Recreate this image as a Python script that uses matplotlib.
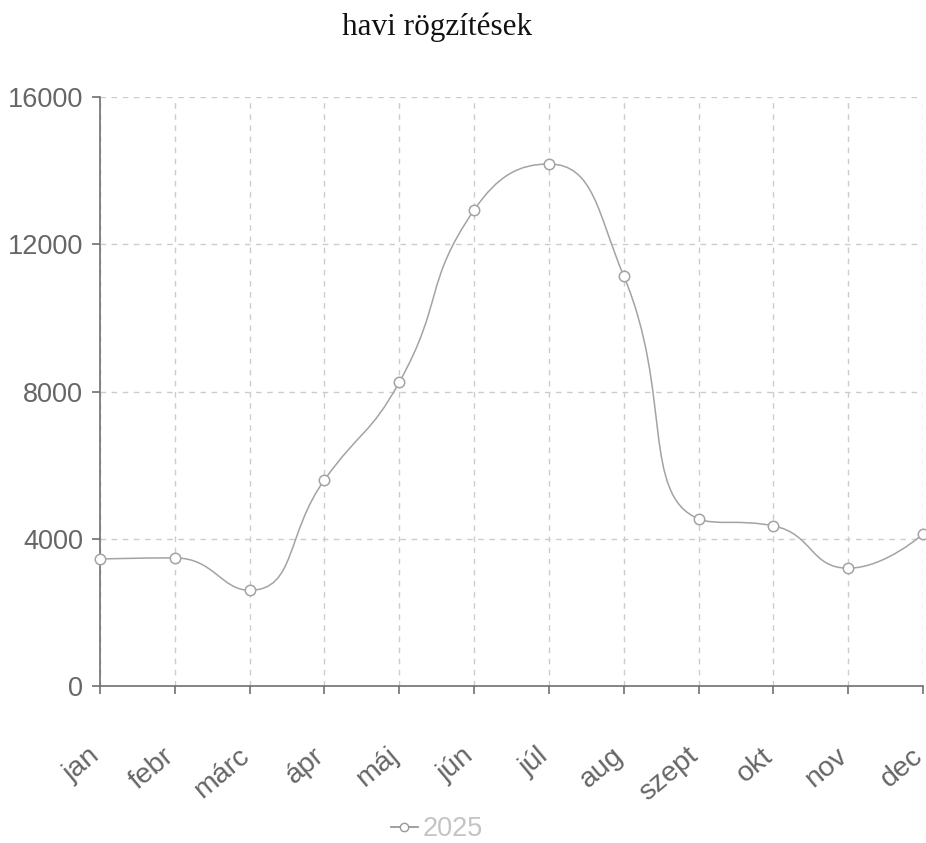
import matplotlib
matplotlib.use("Agg")
import matplotlib.pyplot as plt
import matplotlib.transforms as mtransforms
from matplotlib.path import Path
from matplotlib.patches import PathPatch
from matplotlib.lines import Line2D
import numpy as np

# adatok
honapok = ["jan", "febr", "márc", "ápr", "máj", "jún", "júl", "aug", "szept", "okt", "nov", "dec"]
ertekek_2025 = [3450, 3480, 2600, 5600, 8250, 12930, 14180, 11140, 4540, 4350, 3200, 4130]
y_ticks = [0, 4000, 8000, 12000, 16000]

axis_color = "#707070"
label_color = "#666666"
line_color = "#a3a3a3"


def smooth_path(px, py, smooth=0.5):
    # echarts-féle simítás (pixel koordinátákban)
    n = len(px)
    verts = [(px[0], py[0])]
    codes = [Path.MOVETO]
    cp0x, cp0y = px[0], py[0]
    for i in range(1, n):
        x, y = px[i], py[i]
        prevx, prevy = px[i - 1], py[i - 1]
        if i == n - 1:
            cp1x, cp1y = x, y
            ncx, ncy = x, y
        else:
            nextx, nexty = px[i + 1], py[i + 1]
            vx, vy = nextx - prevx, nexty - prevy
            len_prev = np.hypot(x - prevx, y - prevy)
            len_next = np.hypot(nextx - x, nexty - y)
            ratio = len_next / (len_next + len_prev)
            ncx = x + vx * smooth * ratio
            ncy = y + vy * smooth * ratio
            ncx = max(min(ncx, max(nextx, x)), min(nextx, x))
            ncy = max(min(ncy, max(nexty, y)), min(nexty, y))
            vx, vy = ncx - x, ncy - y
            cp1x = x - vx * len_prev / len_next
            cp1y = y - vy * len_prev / len_next
            cp1x = max(min(cp1x, max(prevx, x)), min(prevx, x))
            cp1y = max(min(cp1y, max(prevy, y)), min(prevy, y))
            vx, vy = x - cp1x, y - cp1y
            ncx = x + vx * len_next / len_prev
            ncy = y + vy * len_next / len_prev
        verts += [(cp0x, cp0y), (cp1x, cp1y), (x, y)]
        codes += [Path.CURVE4] * 3
        cp0x, cp0y = ncx, ncy
    return verts, codes


fig = plt.figure(figsize=(9.26, 8.43), dpi=100)
ax = fig.add_axes([100 / 926, 157 / 843, 823 / 926, 589 / 843])

x = np.arange(len(honapok))
ax.set_xlim(0, len(honapok) - 1)
ax.set_ylim(0, 16000)

# simított vonal
pix = ax.transData.transform(np.column_stack([x, ertekek_2025]))
verts, codes = smooth_path(pix[:, 0], pix[:, 1])
verts = ax.transData.inverted().transform(np.array(verts))
ax.add_patch(PathPatch(Path(verts, codes), fill=False, edgecolor=line_color, lw=1.1, zorder=3))
ax.plot(x, ertekek_2025, "o", ms=7.5, mfc="white", mec=line_color, mew=1.1, zorder=4, clip_on=False)

# rács
ax.set_yticks(y_ticks)
ax.set_xticks(x)
ax.grid(True, color="#cccccc", linestyle=(0, (4, 4)), linewidth=1)
ax.set_axisbelow(True)

for s in ["top", "right"]:
    ax.spines[s].set_visible(False)
for s in ["left", "bottom"]:
    ax.spines[s].set_color(axis_color)
    ax.spines[s].set_linewidth(1.2)

ax.tick_params(axis="both", color=axis_color, length=6, width=1.2, labelcolor=label_color)
ax.tick_params(axis="y", pad=6)
ax.set_yticklabels([str(v) for v in y_ticks], fontsize=19.5, family="Liberation Sans")
ax.set_xticklabels(honapok, fontsize=20.5, family="Liberation Sans",
                   rotation=40, ha="right", va="center", rotation_mode="anchor")
ax.tick_params(axis="x", pad=42)
shift = mtransforms.ScaledTranslation(-4 / 100, 0, fig.dpi_scale_trans)
for lbl in ax.get_xticklabels():
    lbl.set_transform(lbl.get_transform() + shift)

fig.text(437 / 926, 1 - 27 / 843, "havi rögzítések", ha="center", va="center",
         fontsize=22.5, family="Liberation Serif", color="#111111")

handle = Line2D([], [], color="#999999", lw=1.3, marker="o", ms=6, mfc="white", mec="#999999")
fig.legend([handle], ["2025"], loc="center", bbox_to_anchor=(437 / 926, 1 - 829 / 843),
           frameon=False, labelcolor="#c4c4c4", handlelength=1.0,
           handletextpad=0.2, prop={"family": "Liberation Sans", "size": 19.5})

fig.savefig("out.png", dpi=100)
